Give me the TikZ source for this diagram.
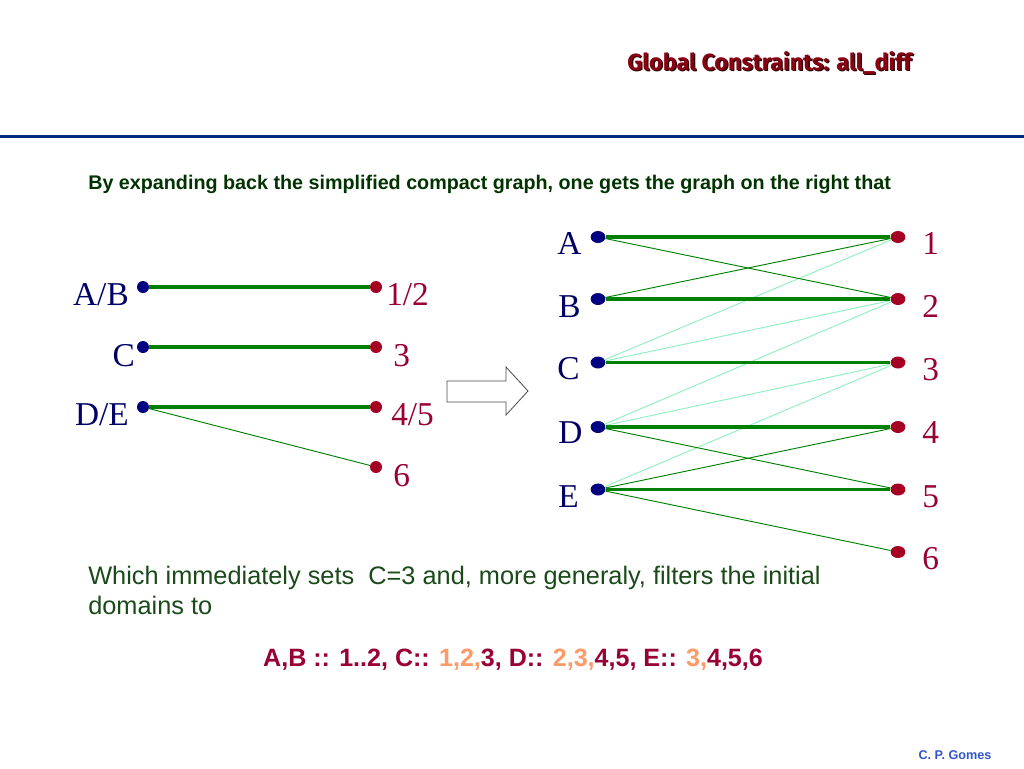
\documentclass[tikz,border=0pt]{standalone}
\usepackage{fontspec}
\setmainfont{Liberation Serif}
\newfontfamily\arialf{Liberation Sans}
\newfontfamily\titlef{Fira Sans}
\usetikzlibrary{shapes.geometric}
\definecolor{navyc}{HTML}{000080}
\definecolor{dotred}{HTML}{A50021}
\definecolor{lblred}{HTML}{990033}
\definecolor{lblblue}{HTML}{000066}
\definecolor{edgegreen}{HTML}{008000}
\definecolor{lightedge}{HTML}{8FF0C0}
\definecolor{txtgreen}{HTML}{1A4A1A}
\definecolor{hdgreen}{HTML}{003300}
\definecolor{orng}{HTML}{FF9966}
\definecolor{titred}{HTML}{880011}
\definecolor{rulec}{HTML}{002A80}
\definecolor{authc}{HTML}{3355CC}
\tikzset{
  vdot/.style={ellipse, fill=navyc, inner sep=0pt, minimum width=11pt, minimum height=9pt},
  rdot/.style={ellipse, fill=dotred, inner sep=0pt, minimum width=11pt, minimum height=9pt},
  lvdot/.style={circle, fill=navyc, inner sep=0pt, minimum size=9pt},
  lrdot/.style={circle, fill=dotred, inner sep=0pt, minimum size=9pt},
  vlab/.style={text=lblblue, font=\fontsize{25pt}{27pt}\selectfont, inner sep=0pt},
  nlab/.style={text=lblred, font=\fontsize{25pt}{27pt}\selectfont, inner sep=0pt},
  thick edge/.style={draw=edgegreen, line width=2.9pt},
  thin edge/.style={draw=edgegreen, line width=0.7pt},
  light edge/.style={draw=lightedge, line width=0.7pt},
}
\begin{document}
\begin{tikzpicture}[x=0.75pt,y=-0.75pt]
\useasboundingbox (0,0) rectangle (1024,768);
\fill[white] (0,0) rectangle (1024,768);
% title
\node[anchor=base, inner sep=0pt, text=black!70!titred, font=\titlef\bfseries\fontsize{17.5pt}{20pt}\selectfont] (titleshadow) at (770.8,71.3) {Global Constraints: all\_diff};
\node[anchor=base, inner sep=0pt, text=titred, font=\titlef\bfseries\fontsize{17.5pt}{20pt}\selectfont] (title) at (769.5,70) {Global Constraints: all\_diff};
\draw[rulec, line width=2.25pt] (0,136) -- (1024,136);
% header text
\node[anchor=base west, inner sep=0pt, text=hdgreen, font=\arialf\bfseries\fontsize{14.8pt}{17pt}\selectfont] (intro) at (88,189) {By expanding back the simplified compact graph, one gets the graph on the right that};
% left graph
\node[lvdot] (lab) at (143,287) {};
\node[lvdot] (lc) at (143,347) {};
\node[lvdot] (lde) at (143,407) {};
\node[lrdot] (l12) at (376,287) {};
\node[lrdot] (l3) at (376,347) {};
\node[lrdot] (l45) at (376,407) {};
\node[lrdot] (l6) at (376,467) {};
\draw[thick edge] (lab) -- (l12);
\draw[thick edge] (lc) -- (l3);
\draw[thick edge] (lde) -- (l45);
\draw[thin edge] (lde) -- (l6);
\node[vlab, anchor=base east] (tab) at (129,305) {A/B};
\node[vlab, anchor=base east] (tc) at (135,366) {C};
\node[vlab, anchor=base east] (tde) at (129,425) {D/E};
\node[nlab, anchor=base west] (t12) at (386,305) {1/2};
\node[nlab, anchor=base west] (t3) at (393,366) {3};
\node[nlab, anchor=base west] (t45) at (391,425) {4/5};
\node[nlab, anchor=base west] (t6) at (393,486) {6};
% block arrow
\draw[black!70, line width=0.6pt, fill=white] (447,381) -- (506,381) -- (506,367) -- (528,391) -- (506,415) -- (506,402) -- (447,402) -- cycle;
% right graph
\node[vdot] (A) at (598,237) {};
\node[vdot] (B) at (598,299) {};
\node[vdot] (C) at (598,362.5) {};
\node[vdot] (D) at (598,427) {};
\node[vdot] (E) at (598,489.5) {};
\node[rdot] (n1) at (898,237) {};
\node[rdot] (n2) at (898,299) {};
\node[rdot] (n3) at (898,362.5) {};
\node[rdot] (n4) at (898,427) {};
\node[rdot] (n5) at (898,489.5) {};
\node[rdot] (n6) at (898,552) {};
\draw[light edge] (C) -- (n1);
\draw[light edge] (C) -- (n2);
\draw[light edge] (D) -- (n2);
\draw[light edge] (D) -- (n3);
\draw[light edge] (E) -- (n3);
\draw[thin edge] (A) -- (n2);
\draw[thin edge] (B) -- (n1);
\draw[thin edge] (D) -- (n5);
\draw[thin edge] (E) -- (n4);
\draw[thin edge] (E) -- (n6);
\draw[thick edge] (A) -- (n1);
\draw[thick edge] (B) -- (n2);
\draw[thick edge] (C) -- (n3);
\draw[thick edge] (D) -- (n4);
\draw[thick edge] (E) -- (n5);
\node[vlab, anchor=base west] (tA) at (557,254) {A};
\node[vlab, anchor=base west] (tB) at (558,317) {B};
\node[vlab, anchor=base west] (tC) at (557,379) {C};
\node[vlab, anchor=base west] (tD) at (558,443) {D};
\node[vlab, anchor=base west] (tE) at (558,507) {E};
\node[nlab, anchor=base west] (t1) at (922,254) {1};
\node[nlab, anchor=base west] (t2) at (922,317) {2};
\node[nlab, anchor=base west] (t3r) at (922,380) {3};
\node[nlab, anchor=base west] (t4) at (922,443) {4};
\node[nlab, anchor=base west] (t5) at (922,507) {5};
\node[nlab, anchor=base west] (t6r) at (922,569) {6};
% bottom text
\node[anchor=base west, inner sep=0pt, text=txtgreen, font=\arialf\fontsize{19pt}{22.5pt}\selectfont, align=left] (which) at (88,614) {Which immediately sets\ \ C=3 and, more generaly, filters the initial\\domains to};
\node[anchor=base, inner sep=0pt, text=lblred, font=\arialf\bfseries\fontsize{18.8pt}{21pt}\selectfont] (domains) at (513,666) {A,B :: 1..2, C:: \textcolor{orng}{1,2,}3, D:: \textcolor{orng}{2,3,}4,5, E:: \textcolor{orng}{3,}4,5,6};
\node[anchor=base, inner sep=0pt, text=authc, font=\arialf\bfseries\fontsize{9.5pt}{11pt}\selectfont] (author) at (955,759) {C. P. Gomes};
\end{tikzpicture}
\end{document}
